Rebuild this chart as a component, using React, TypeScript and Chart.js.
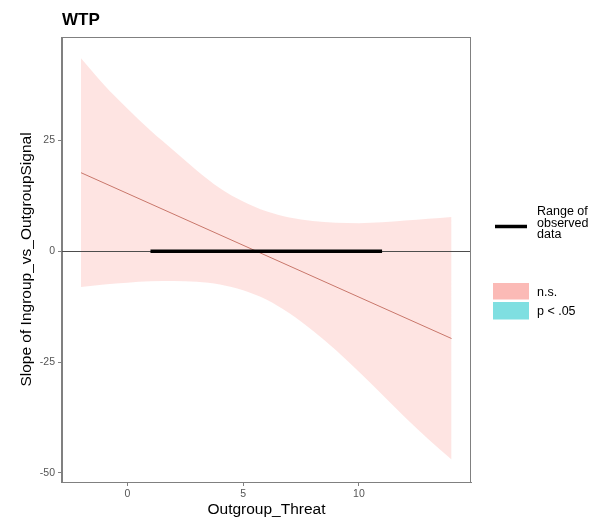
import React, { useEffect, useRef } from "react";
import { Chart, registerables } from "chart.js";

Chart.register(...registerables);

// Moderator grid and the confidence band of the simple slope
const threatX = [-2, -1, 0, 1, 2, 3, 4, 5, 6, 7, 8, 9, 10, 11, 12, 13, 14];
const bandUpper = [43.5, 37.5, 32.2, 27.2, 22.7, 18.2, 14.2, 11.2, 9.0, 7.6, 6.8, 6.4, 6.3, 6.5, 6.9, 7.3, 7.7];
const bandLower = [-8.1, -7.5, -7.1, -6.8, -6.7, -6.9, -7.5, -8.8, -10.9, -14.0, -17.9, -22.3, -27.2, -32.3, -37.5, -42.4, -47.0];

// Simple slope estimate at the ends of the plotted range
const slopeX = [-2, 14];
const slopeY = [17.7, -19.7];

// Range of the observed moderator values
const observedX = [1, 11];

// Axis extents and tick labels
const xLimits = [-2.82, 14.84];
const yLimits = [-52.05, 48.3];
const xTicks = [0, 5, 10];
const yTicks = [-50, -25, 0, 25];

const FONT = "'Liberation Sans', Arial, Helvetica, sans-serif";

const decorations = {
  id: "decorations",
  afterDatasetDraw(chart: any, args: any) {
    // zero reference line, above the band but under the slope line
    if (args.index !== 1) return;
    const { ctx, chartArea, scales } = chart;
    const y0 = Math.round(scales.y.getPixelForValue(0)) + 0.5;
    ctx.save();
    ctx.strokeStyle = "#4d4d4d";
    ctx.lineWidth = 1;
    ctx.beginPath();
    ctx.moveTo(chartArea.left, y0);
    ctx.lineTo(chartArea.right, y0);
    ctx.stroke();
    ctx.restore();
  },
  afterDraw(chart: any) {
    const { ctx, chartArea } = chart;
    const { left, right, top, bottom } = chartArea;
    ctx.save();

    // panel border
    ctx.strokeStyle = "#808080";
    ctx.lineWidth = 1;
    ctx.strokeRect(Math.round(left) - 0.5, Math.round(top) + 0.5, Math.round(right - left), Math.round(bottom - top));

    // title
    ctx.fillStyle = "#000";
    ctx.font = `bold 17px ${FONT}`;
    ctx.textAlign = "left";
    ctx.textBaseline = "middle";
    ctx.fillText("WTP", left, 20);

    // axis titles
    ctx.font = `15.5px ${FONT}`;
    ctx.textAlign = "center";
    ctx.fillText("Outgroup_Threat", (left + right) / 2, 510);
    ctx.save();
    ctx.translate(27, (top + bottom) / 2);
    ctx.rotate(-Math.PI / 2);
    ctx.fillText("Slope of Ingroup_vs_OutgroupSignal", 0, 0);
    ctx.restore();

    // legend: observed range key
    ctx.strokeStyle = "#000";
    ctx.lineWidth = 3.5;
    ctx.beginPath();
    ctx.moveTo(495, 226.5);
    ctx.lineTo(527, 226.5);
    ctx.stroke();

    ctx.font = `12.5px ${FONT}`;
    ctx.textAlign = "left";
    ctx.fillStyle = "#000";
    ctx.fillText("Range of", 537, 212);
    ctx.fillText("observed", 537, 223.5);
    ctx.fillText("data", 537, 235);

    // legend: significance fill keys
    ctx.fillStyle = "rgba(248,118,109,0.5)";
    ctx.fillRect(493, 283, 36, 16.5);
    ctx.fillStyle = "rgba(0,191,196,0.5)";
    ctx.fillRect(493, 302, 36, 17.5);
    ctx.fillStyle = "#000";
    ctx.fillText("n.s.", 537, 292.5);
    ctx.fillText("p < .05", 537, 311.5);

    ctx.restore();
  },
};

export default function App() {
  const canvasRef = useRef<HTMLCanvasElement | null>(null);

  useEffect(() => {
    if (!canvasRef.current) return;
    const chart = new Chart(canvasRef.current, {
      type: "line",
      data: {
        datasets: [
          {
            label: "upper",
            data: threatX.map((x, i) => ({ x, y: bandUpper[i] })),
            borderWidth: 0,
            pointRadius: 0,
            backgroundColor: "rgba(248,118,109,0.2)",
            fill: "+1",
            cubicInterpolationMode: "monotone",
            order: 10,
          },
          {
            label: "lower",
            data: threatX.map((x, i) => ({ x, y: bandLower[i] })),
            borderWidth: 0,
            pointRadius: 0,
            fill: false,
            cubicInterpolationMode: "monotone",
            order: 9,
          },
          {
            label: "slope",
            data: slopeX.map((x, i) => ({ x, y: slopeY[i] })),
            borderColor: "rgb(200,118,106)",
            borderWidth: 1,
            pointRadius: 0,
            fill: false,
            order: 1,
          },
          {
            label: "observed",
            data: observedX.map((x) => ({ x, y: 0 })),
            borderColor: "#000",
            borderWidth: 3.5,
            borderCapStyle: "butt",
            pointRadius: 0,
            fill: false,
            order: 0,
          },
        ],
      },
      options: {
        responsive: false,
        animation: false,
        events: [],
        layout: { padding: { top: 37, right: 118, left: 0, bottom: 0 } },
        plugins: {
          legend: { display: false },
          tooltip: { enabled: false },
          title: { display: false },
        },
        scales: {
          x: {
            type: "linear",
            min: xLimits[0],
            max: xLimits[1],
            afterBuildTicks: (s: any) => {
              s.ticks = xTicks.map((v) => ({ value: v }));
            },
            afterFit: (s: any) => {
              s.height = 38;
            },
            grid: { drawOnChartArea: false, drawTicks: true, tickLength: 4, color: "#808080" },
            border: { display: true, color: "#808080" },
            ticks: { color: "#555", font: { family: FONT, size: 10.5 }, padding: 2, maxRotation: 0 },
          },
          y: {
            type: "linear",
            min: yLimits[0],
            max: yLimits[1],
            afterBuildTicks: (s: any) => {
              s.ticks = yTicks.map((v) => ({ value: v }));
            },
            afterFit: (s: any) => {
              s.width = 62;
            },
            grid: { drawOnChartArea: false, drawTicks: true, tickLength: 4, color: "#808080" },
            border: { display: true, color: "#808080" },
            ticks: { color: "#555", font: { family: FONT, size: 10.5 }, padding: 3 },
          },
        },
      },
      plugins: [decorations],
    });
    return () => chart.destroy();
  }, []);

  return (
    <div style={{ position: "absolute", left: 0, top: 0, width: 589, height: 520, background: "#fff" }}>
      <canvas ref={canvasRef} width={589} height={520} style={{ display: "block" }} />
    </div>
  );
}
